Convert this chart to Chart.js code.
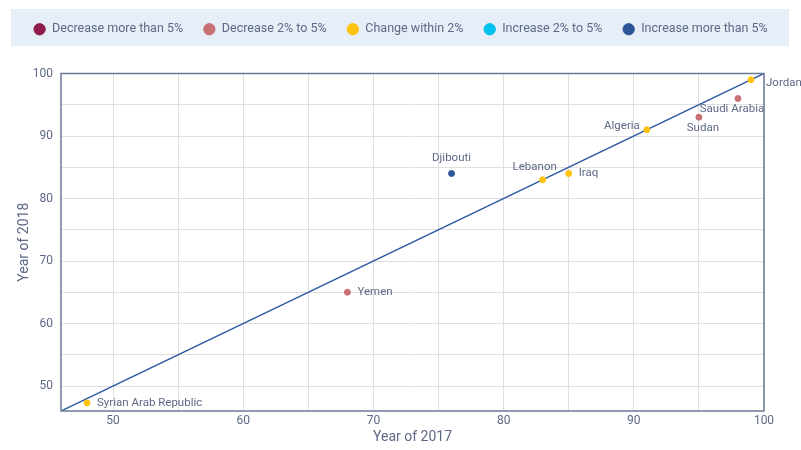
<!DOCTYPE html>
<html>
<head>
<meta charset="utf-8">
<script src="https://cdn.jsdelivr.net/npm/chart.js@4/dist/chart.umd.min.js"></script>
<style>
  html, body { margin: 0; padding: 0; background: #fff; }
  #wrap { width: 801px; height: 450px; }
</style>
</head>
<body>
<div id="wrap"><canvas id="chart" width="801" height="450"></canvas></div>
<script>
const categories = ["Decrease more than 5%", "Decrease 2% to 5%", "Change within 2%", "Increase 2% to 5%", "Increase more than 5%"];
const categoryColors = ["#8E1B4B", "#C97075", "#FFC20E", "#00C0F0", "#2B5597"];

const countries = ["Syrian Arab Republic", "Yemen", "Djibouti", "Lebanon", "Iraq", "Algeria", "Sudan", "Saudi Arabia", "Jordan"];
const score2017 = [48, 68, 76, 83, 85, 91, 95, 98, 99];
const score2018 = [47.3, 65, 84, 83, 84, 91, 93, 96, 99];
const changeGroup = [2, 1, 4, 2, 2, 2, 1, 1, 2];

// where each country name sits relative to its dot
const labelAnchor = ["right", "right", "above", "aboveLeft", "right", "left", "below", "belowLeft", "rightHigh"];

const axisMin = 46;
const axisMax = 100;
const TEXT = "#5E6887";
const FONT = "'Roboto', sans-serif";

const datasets = categories.map((name, c) => ({
    type: "scatter",
    label: name,
    data: countries
        .map((country, i) => ({ x: score2017[i], y: score2018[i], country, anchor: labelAnchor[i], group: changeGroup[i] }))
        .filter(p => p.group === c),
    backgroundColor: categoryColors[c],
    borderColor: categoryColors[c],
    pointRadius: 3,
    pointHoverRadius: 3,
    pointStyle: "circle"
}));

datasets.push({
    type: "line",
    label: "diagonal",
    data: [{ x: axisMin, y: axisMin }, { x: axisMax, y: axisMax }],
    borderColor: "#2D5BA3",
    borderWidth: 1.5,
    pointRadius: 0,
    fill: false,
    order: 10
});

const legendBackground = {
    id: "legendBackground",
    beforeDraw(chart) {
        const { ctx } = chart;
        ctx.save();
        ctx.fillStyle = "#E6EEF7";
        ctx.fillRect(11, 9, 778, 37);
        ctx.restore();
    }
};

// leave a gap between the legend band and the plot
const legendGap = {
    id: "legendGap",
    beforeLayout(chart) {
        const lg = chart.legend;
        if (!lg || lg._gapPatched) return;
        const fit = lg.fit;
        lg.fit = function () {
            fit.call(this);
            this.height += 28;
        };
        lg._gapPatched = true;
    }
};

const frame = {
    id: "frame",
    afterDatasetsDraw(chart) {
        const { ctx, chartArea: a } = chart;
        ctx.save();
        ctx.strokeStyle = "#6E7896";
        ctx.lineWidth = 1.5;
        ctx.strokeRect(a.left, a.top, a.right - a.left, a.bottom - a.top);
        ctx.restore();
    }
};

const offsets = {
    right: [10, 0, "left"],
    rightHigh: [15, 3, "left"],
    left: [-7, -4, "right"],
    above: [0, -15, "center"],
    aboveLeft: [-8, -13, "center"],
    below: [4, 11, "center"],
    belowLeft: [-6, 11, "center"]
};

const pointLabels = {
    id: "pointLabels",
    afterDatasetsDraw(chart) {
        const { ctx } = chart;
        ctx.save();
        ctx.font = "11.5px " + FONT;
        ctx.fillStyle = TEXT;
        ctx.textBaseline = "middle";
        chart.data.datasets.forEach((ds, d) => {
            if (ds.type !== "scatter") return;
            chart.getDatasetMeta(d).data.forEach((el, i) => {
                const p = ds.data[i];
                const [dx, dy, align] = offsets[p.anchor];
                ctx.textAlign = align;
                ctx.fillText(p.country, el.x + dx, el.y + dy);
            });
        });
        ctx.restore();
    }
};

const keepFives = scale => {
    scale.ticks = scale.ticks.filter(t => t.value % 5 === 0);
};

new Chart(document.getElementById("chart"), {
    data: { datasets },
    plugins: [legendBackground, legendGap, frame, pointLabels],
    options: {
        responsive: false,
        animation: false,
        layout: { padding: { left: 0, right: 0, top: 3, bottom: 0 } },
        plugins: {
            tooltip: { enabled: false },
            legend: {
                position: "top",
                labels: {
                    filter: item => item.text !== "diagonal",
                    usePointStyle: true,
                    pointStyle: "circle",
                    boxWidth: 16,
                    boxHeight: 8,
                    padding: 20,
                    color: TEXT,
                    font: { family: FONT, size: 12.5 }
                }
            }
        },
        scales: {
            x: {
                type: "linear",
                min: axisMin,
                max: axisMax,
                afterBuildTicks: keepFives,
                afterFit: s => { s.height = 39; },
                ticks: {
                    stepSize: 5,
                    autoSkip: false,
                    maxRotation: 0,
                    color: TEXT,
                    font: { family: FONT, size: 12 },
                    callback: v => (v % 10 === 0 ? v : "")
                },
                grid: { color: "#E0E0E0", lineWidth: 1, drawTicks: false },
                border: { display: false },
                title: { display: true, text: "Year of 2017", color: TEXT, font: { family: FONT, size: 14 }, padding: { top: 10 } }
            },
            y: {
                type: "linear",
                min: axisMin,
                max: axisMax,
                afterBuildTicks: keepFives,
                afterFit: s => { s.width = 61; },
                ticks: {
                    stepSize: 5,
                    autoSkip: false,
                    padding: 8,
                    color: TEXT,
                    font: { family: FONT, size: 12 },
                    callback: v => (v % 10 === 0 ? v : "")
                },
                grid: { color: "#E0E0E0", lineWidth: 1, drawTicks: false },
                border: { display: false },
                title: { display: true, text: "Year of 2018", color: TEXT, font: { family: FONT, size: 14 }, padding: { top: 16 } }
            },
            // empty right-hand axis that keeps room for the "Jordan" label
            yRight: {
                type: "linear",
                position: "right",
                min: axisMin,
                max: axisMax,
                afterFit: s => { s.width = 37; },
                ticks: { display: false },
                grid: { display: false },
                border: { display: false }
            }
        }
    }
});
</script>
</body>
</html>
